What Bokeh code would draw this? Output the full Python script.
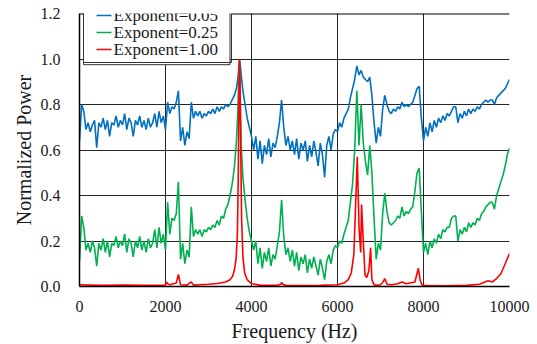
from bokeh.plotting import figure
from bokeh.models import (Range1d, FixedTicker, PrintfTickFormatter, Label, Arrow, Grid)
from bokeh.embed import file_html
from bokeh.resources import INLINE

# ---------------- data ----------------
x_ticks = [0, 2000, 4000, 6000, 8000, 10000]
y_ticks = [0.0, 0.2, 0.4, 0.6, 0.8, 1.0, 1.2]
legend_labels = ["Exponent=0.05", "Exponent=0.25", "Exponent=1.00"]
series_colors = ["#0070C0", "#00B050", "#FF0000"]

freq_hz = [
    0, 50, 100, 150, 200, 250, 300, 350, 400, 450,
    500, 550, 600, 650, 700, 750, 800, 850, 900, 950,
    1000, 1050, 1100, 1150, 1200, 1250, 1300, 1350, 1400, 1450,
    1500, 1550, 1600, 1650, 1700, 1750, 1800, 1850, 1900, 1950,
    2000,
    2050, 2100, 2150, 2200, 2250, 2300, 2350, 2400, 2450, 2500,
    2550, 2600, 2650, 2700, 2750, 2800, 2850, 2900, 2950, 3000,
    3050, 3100, 3150, 3200, 3250, 3300, 3350, 3400, 3450, 3500,
    3550, 3600, 3650,
    3680, 3700, 3720, 3740, 3760, 3800,
    3850, 3900, 3950, 4000, 4050, 4100, 4150, 4200, 4250, 4300,
    4350, 4400, 4450, 4500, 4550, 4600, 4650, 4700, 4750, 4800,
    4850, 4900, 4950, 5000, 5050, 5100, 5150, 5200, 5250, 5300,
    5350, 5400, 5450, 5500, 5550, 5600, 5650, 5700, 5750, 5800,
    5850, 5900, 5950, 6000,
    6050, 6100, 6150, 6200, 6250, 6300, 6350, 6400, 6450, 6500,
    6550, 6600, 6650, 6700, 6750, 6800, 6850, 6900, 6950, 7000,
    7050, 7100, 7150, 7200, 7250, 7300, 7350, 7400, 7450, 7500,
    7550, 7600, 7650, 7700, 7750, 7800, 7850, 7900, 7950, 8000,
    8050, 8100, 8150, 8200, 8250, 8300, 8350, 8400, 8450, 8500,
    8550, 8600, 8650, 8700, 8750, 8800, 8850, 8900, 8950, 9000,
    9050, 9100, 9150, 9200, 9250, 9300, 9350, 9400, 9450, 9500,
    9550, 9600, 9650, 9700, 9750, 9800, 9850, 9900, 9950, 10000,
]

power_exp005 = [
    0.64, 0.80, 0.77, 0.69, 0.72, 0.68, 0.71, 0.73, 0.61, 0.72,
    0.70, 0.74, 0.69, 0.73, 0.66, 0.72, 0.71, 0.75, 0.70, 0.73,
    0.71, 0.76, 0.69, 0.74, 0.72, 0.66, 0.73, 0.71, 0.75, 0.70,
    0.73, 0.69, 0.74, 0.70, 0.72, 0.76, 0.70, 0.77, 0.72, 0.75,
    0.69,
    0.81, 0.76, 0.79, 0.78, 0.81, 0.86, 0.64, 0.70, 0.62, 0.68,
    0.65, 0.81, 0.74, 0.77, 0.75, 0.77, 0.74, 0.76, 0.75, 0.77,
    0.76, 0.78, 0.76, 0.79, 0.77, 0.79, 0.78, 0.80, 0.79, 0.80,
    0.82, 0.84, 0.87,
    0.91, 0.95, 1.00, 0.97, 0.93, 0.86,
    0.80, 0.74, 0.70, 0.66, 0.60, 0.66, 0.56, 0.64, 0.54, 0.62,
    0.58, 0.65, 0.57, 0.63, 0.61, 0.66, 0.72, 0.82, 0.70, 0.62,
    0.66, 0.60, 0.64, 0.58, 0.65, 0.56, 0.63, 0.60, 0.64, 0.55,
    0.62, 0.57, 0.64, 0.59, 0.53, 0.63, 0.58, 0.48, 0.62, 0.66,
    0.60, 0.67, 0.69, 0.68,
    0.72, 0.70, 0.74, 0.76, 0.78, 0.83, 0.87, 0.91, 0.97, 0.93,
    0.95, 0.92, 0.91, 0.90, 0.92, 0.84, 0.72, 0.63, 0.70, 0.66,
    0.78, 0.84, 0.80, 0.77, 0.76, 0.78, 0.77, 0.79, 0.78, 0.81,
    0.79, 0.80, 0.79, 0.80, 0.81, 0.84, 0.87, 0.88, 0.74, 0.64,
    0.70, 0.66, 0.72, 0.68, 0.73, 0.70, 0.74, 0.72, 0.75, 0.73,
    0.76, 0.75, 0.77, 0.79, 0.79, 0.72, 0.76, 0.74, 0.77, 0.75,
    0.78, 0.76, 0.78, 0.77, 0.79, 0.78, 0.80, 0.81, 0.82, 0.81,
    0.82, 0.82, 0.80, 0.83, 0.84, 0.85, 0.86, 0.87, 0.89, 0.91,
]

power_exp025 = [
    0.11, 0.31, 0.26, 0.16, 0.19, 0.15, 0.20, 0.17, 0.09, 0.19,
    0.16, 0.21, 0.15, 0.20, 0.13, 0.19, 0.18, 0.22, 0.17, 0.20,
    0.18, 0.23, 0.15, 0.21, 0.19, 0.13, 0.20, 0.17, 0.22, 0.16,
    0.20, 0.15, 0.21, 0.17, 0.19, 0.25, 0.17, 0.26, 0.19, 0.23,
    0.16,
    0.37, 0.23, 0.30, 0.29, 0.32, 0.46, 0.12, 0.19, 0.10, 0.16,
    0.13, 0.35, 0.22, 0.25, 0.23, 0.25, 0.22, 0.25, 0.24, 0.26,
    0.25, 0.27, 0.26, 0.29, 0.27, 0.31, 0.30, 0.34, 0.36, 0.40,
    0.45, 0.52, 0.64,
    0.76, 0.88, 0.99, 0.82, 0.62, 0.48,
    0.38, 0.30, 0.24, 0.20, 0.16, 0.20, 0.10, 0.17, 0.08, 0.15,
    0.11, 0.17, 0.09, 0.14, 0.12, 0.18, 0.24, 0.38, 0.22, 0.14,
    0.17, 0.11, 0.16, 0.09, 0.15, 0.07, 0.13, 0.10, 0.14, 0.06,
    0.12, 0.08, 0.13, 0.09, 0.05, 0.12, 0.08, 0.03, 0.11, 0.14,
    0.10, 0.16, 0.18, 0.17,
    0.20, 0.19, 0.23, 0.26, 0.29, 0.37, 0.45, 0.60, 0.86, 0.62,
    0.80, 0.63, 0.55, 0.49, 0.62, 0.50, 0.30, 0.12, 0.19, 0.16,
    0.32, 0.41, 0.33, 0.28, 0.27, 0.28, 0.29, 0.31, 0.30, 0.35,
    0.31, 0.33, 0.32, 0.34, 0.35, 0.42, 0.50, 0.52, 0.33, 0.15,
    0.19, 0.14, 0.20, 0.17, 0.21, 0.19, 0.23, 0.21, 0.25, 0.24,
    0.26, 0.26, 0.30, 0.31, 0.31, 0.20, 0.25, 0.23, 0.26, 0.24,
    0.28, 0.26, 0.28, 0.27, 0.30, 0.29, 0.32, 0.33, 0.35, 0.36,
    0.37, 0.37, 0.34, 0.40, 0.43, 0.46, 0.49, 0.53, 0.58, 0.61,
]

freq_red_hz = [
    0, 500, 1000, 1500, 2000, 2020, 2050, 2100, 2250, 2300,
    2350, 2500, 2600, 2650, 2800, 3000, 3200, 3400, 3500, 3560,
    3600, 3640, 3670, 3690, 3710, 3720, 3730, 3750, 3770, 3800,
    3840, 3900, 4000, 4200, 4600, 4680, 4700, 4720, 4800, 5200,
    5600, 6000, 6150, 6250, 6320, 6380, 6420, 6460, 6500, 6540,
    6560, 6600, 6640, 6680, 6730, 6770, 6800, 6850, 6900, 7000,
    7060, 7100, 7150, 7250, 7400, 7500, 7600, 7800, 7880, 7920,
    7960, 8000, 8500, 9000, 9300, 9500, 9600, 9700, 9800, 9900,
    10000,
]

power_exp100 = [
    0.008, 0.005, 0.006, 0.005, 0.005, 0.020, 0.012, 0.008, 0.015, 0.053,
    0.008, 0.006, 0.020, 0.006, 0.008, 0.010, 0.013, 0.020, 0.030, 0.045,
    0.070, 0.120, 0.220, 0.450, 0.850, 1.000, 0.950, 0.600, 0.300, 0.130,
    0.060, 0.030, 0.012, 0.006, 0.005, 0.010, 0.018, 0.010, 0.005, 0.004,
    0.005, 0.008, 0.015, 0.030, 0.060, 0.140, 0.350, 0.570, 0.260, 0.150,
    0.360, 0.200, 0.050, 0.040, 0.070, 0.170, 0.030, 0.008, 0.005, 0.008,
    0.020, 0.035, 0.010, 0.008, 0.012, 0.020, 0.012, 0.020, 0.080, 0.030,
    0.008, 0.004, 0.003, 0.005, 0.010, 0.025, 0.020, 0.035, 0.056, 0.100,
    0.145,
]

# ---------------- figure ----------------
FONT = "Liberation Serif"

p = figure(
    width=530, height=344,
    x_range=Range1d(0, 10000), y_range=Range1d(0, 1.2),
    output_backend="svg", toolbar_location=None,
    min_border_left=79, min_border_right=21,
    min_border_top=13, min_border_bottom=58,
)
p.background_fill_color = "white"
p.border_fill_color = "white"
p.outline_line_color = None

p.line(freq_hz, power_exp005, line_color=series_colors[0], line_width=1.6)
p.line(freq_hz, power_exp025, line_color=series_colors[1], line_width=1.6)
p.line(freq_red_hz, power_exp100, line_color=series_colors[2], line_width=1.6)

for ax in (p.xaxis[0], p.yaxis[0]):
    ax.axis_line_color = "black"
    ax.axis_line_width = 1.5
    ax.major_tick_out = 0
    ax.major_tick_in = 0
    ax.minor_tick_out = 0
    ax.minor_tick_in = 0
    ax.major_label_text_font = FONT
    ax.major_label_text_font_size = "16px"
    ax.major_label_text_color = "#1a1a1a"
    ax.axis_label_text_font = FONT
    ax.axis_label_text_font_size = "20px"
    ax.axis_label_text_font_style = "normal"
    ax.axis_label_text_color = "#1a1a1a"

p.xaxis.ticker = FixedTicker(ticks=x_ticks)
p.yaxis.ticker = FixedTicker(ticks=y_ticks)
p.xaxis.formatter = PrintfTickFormatter(format="%d")
p.yaxis.formatter = PrintfTickFormatter(format="%.1f")
p.xaxis.axis_label = "Frequency (Hz)"
p.yaxis.axis_label = "Normalized Power"
p.xaxis.major_label_standoff = 14
p.xaxis.axis_label_standoff = 5
p.yaxis.major_label_standoff = 19
p.yaxis.axis_label_standoff = 3

p.xgrid.ticker = FixedTicker(ticks=x_ticks)
p.ygrid.ticker = FixedTicker(ticks=y_ticks[:-1])
for g in (p.xgrid[0], p.ygrid[0]):
    g.grid_line_color = "black"
    g.grid_line_width = 1
    g.grid_line_alpha = 0.85

# heavier right border line
p.add_layout(Grid(dimension=0, ticker=FixedTicker(ticks=[x_ticks[-1]]),
                  grid_line_color="black", grid_line_width=2))

# top border, interrupted by the legend box (screen units relative to frame)
for xs, xe in [(0, 4), (152, 430)]:
    p.add_layout(Arrow(x_start=xs, y_start=273, x_end=xe, y_end=273,
                       start_units="screen", end_units="screen",
                       start=None, end=None,
                       line_color="black", line_width=2))

# ---------------- legend (screen units, relative to the frame) ----------------
legend_box = Label(
    x=4, y=282, x_units="screen", y_units="screen",
    anchor="top_left",
    text="\n".join(legend_labels),
    text_font=FONT, text_font_size="17px", text_line_height=0.9,
    text_color="#1a1a1a", text_align="left",
    background_fill_color="white", background_fill_alpha=1.0,
    border_line_color="#333333", border_line_width=1,
    padding=dict(left=30, right=12, top=1, bottom=6),
)
p.add_layout(legend_box)

# legend box edges (so the part above the frame is outlined too)
for xs, ys, xe, ye in [(4, 282, 152, 282), (4, 282, 4, 224),
                       (152, 282, 152, 224), (4, 224, 152, 224)]:
    p.add_layout(Arrow(x_start=xs, y_start=ys, x_end=xe, y_end=ye,
                       start_units="screen", end_units="screen",
                       start=None, end=None,
                       line_color="#333333", line_width=1))

row_y = [271, 254, 237]
for color, yy in zip(series_colors, row_y):
    p.add_layout(Arrow(x_start=17, y_start=yy, x_end=32, y_end=yy,
                       start_units="screen", end_units="screen",
                       start=None, end=None,
                       line_color=color, line_width=1.6))

open("out.html", "w").write(file_html(p, INLINE))
